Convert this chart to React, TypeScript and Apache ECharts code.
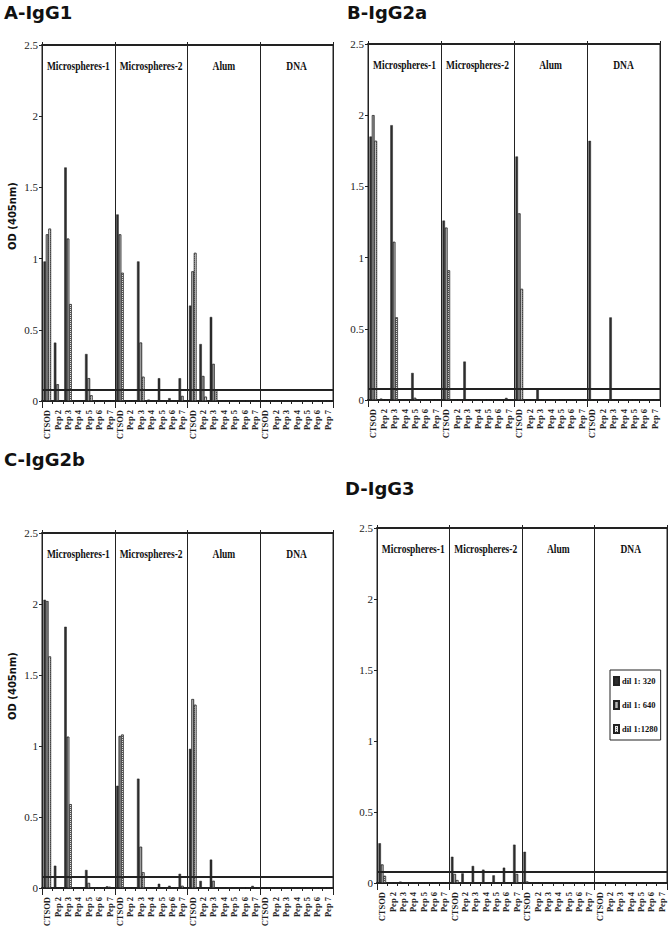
import React, { useEffect, useRef } from 'react';
import * as echarts from 'echarts';

// ---------- data ----------
const categories = ['CTSOD', 'Pep 2', 'Pep 3', 'Pep 4', 'Pep 5', 'Pep 6', 'Pep 7'];
const groups = ['Microspheres-1', 'Microspheres-2', 'Alum', 'DNA'];
const seriesNames = ['dil 1: 320', 'dil 1: 640', 'dil 1:1280'];
const panelTitles = ['A-IgG1', 'B-IgG2a', 'C-IgG2b', 'D-IgG3'];
const yAxisName = 'OD (405nm)';
const cutoff = 0.08;
const yMin = 0;
const yMax = 2.5;
const yStep = 0.5;

// Panel A - IgG1 (Microspheres-1 | Microspheres-2 | Alum | DNA)
const a320 = [0.98, 0.41, 1.64, 0, 0.33, 0.005, 0, 1.31, 0, 0.98, 0.01, 0.16, 0.02, 0.16, 0.67, 0.40, 0.59, 0, 0, 0, 0, 0, 0, 0, 0, 0, 0, 0];
const a640 = [1.17, 0.117, 1.14, 0, 0.16, 0, 0, 1.17, 0, 0.41, 0, 0, 0, 0.035, 0.91, 0.175, 0.26, 0, 0, 0, 0, 0, 0, 0, 0, 0, 0, 0];
const a1280 = [1.21, 0, 0.68, 0, 0.04, 0, 0, 0.90, 0, 0.17, 0, 0, 0, 0, 1.04, 0.03, 0.08, 0, 0, 0, 0, 0, 0, 0, 0, 0, 0, 0];

// Panel B - IgG2a
const b320 = [1.85, 0.01, 1.93, 0, 0.19, 0, 0, 1.26, 0, 0.27, 0, 0, 0, 0.015, 1.71, 0, 0.075, 0, 0, 0, 0, 1.82, 0, 0.58, 0, 0, 0, 0];
const b640 = [2.0, 0, 1.11, 0, 0.015, 0, 0, 1.21, 0, 0, 0, 0, 0, 0, 1.31, 0, 0, 0, 0, 0, 0, 0, 0, 0, 0, 0, 0, 0];
const b1280 = [1.82, 0, 0.58, 0, 0, 0, 0, 0.91, 0, 0, 0, 0, 0, 0, 0.78, 0, 0, 0, 0, 0, 0, 0, 0, 0, 0, 0, 0, 0];

// Panel C - IgG2b
const c320 = [2.03, 0.157, 1.84, 0, 0.127, 0, 0.012, 0.72, 0, 0.77, 0, 0.03, 0.016, 0.10, 0.98, 0.05, 0.20, 0, 0, 0, 0.015, 0, 0, 0, 0, 0, 0, 0];
const c640 = [2.02, 0, 1.065, 0, 0.035, 0, 0.008, 1.07, 0, 0.29, 0, 0, 0, 0.015, 1.33, 0, 0.05, 0, 0, 0, 0, 0, 0, 0, 0, 0, 0, 0];
const c1280 = [1.63, 0, 0.59, 0, 0, 0, 0, 1.08, 0, 0.11, 0, 0, 0, 0, 1.29, 0, 0, 0, 0, 0, 0, 0, 0, 0, 0, 0, 0, 0];

// Panel D - IgG3
const d320 = [0.28, 0, 0.01, 0, 0, 0, 0, 0.185, 0.068, 0.12, 0.094, 0.054, 0.108, 0.27, 0.22, 0, 0, 0, 0, 0, 0, 0, 0, 0, 0, 0, 0, 0];
const d640 = [0.13, 0, 0, 0, 0, 0, 0, 0.063, 0, 0, 0, 0, 0, 0.063, 0.01, 0, 0, 0, 0, 0, 0, 0, 0, 0, 0, 0, 0, 0];
const d1280 = [0.05, 0, 0, 0, 0, 0, 0, 0.02, 0, 0, 0, 0, 0, 0, 0, 0, 0, 0, 0, 0, 0, 0, 0, 0, 0, 0, 0, 0];

const panelData = [
  [a320, a640, a1280],
  [b320, b640, b1280],
  [c320, c640, c1280],
  [d320, d640, d1280],
];

// ---------- layout ----------
const W = 669;
const H = 935;
const grids = [
  { left: 42, top: 45, width: 291, height: 356 },
  { left: 368, top: 44, width: 292, height: 356 },
  { left: 42, top: 533, width: 291, height: 355 },
  { left: 377, top: 528, width: 290, height: 355 },
];
const titlePos = [
  { left: 4, top: 3 },
  { left: 347, top: 3 },
  { left: 4, top: 450 },
  { left: 345, top: 479 },
];
// y-axis name positions (only the left panels carry one)
const yNamePos = [
  { x: 12, y: 216 },
  null,
  { x: 12, y: 686 },
  null,
];
const groupLabelOffset = 20; // px below plot top
const groupLabelScaleX = 0.76;

const INK = '#222';
const SERIF = 'Liberation Serif, DejaVu Serif, serif';
const SANS = 'DejaVu Sans, sans-serif';

const seriesStyles: any[] = [
  { color: '#2e2e2e', borderColor: INK, borderWidth: 0.5 },
  {
    color: '#8f8f8f',
    borderColor: INK,
    borderWidth: 0.5,
    decal: { symbol: 'rect', symbolSize: 1, color: 'rgba(255,255,255,0.35)', dashArrayX: [1, 1], dashArrayY: [10, 0], rotation: 0 },
  },
  {
    color: '#e6e6e6',
    borderColor: INK,
    borderWidth: 0.5,
    decal: { symbol: 'rect', symbolSize: 1, color: 'rgba(40,40,40,0.75)', dashArrayX: [1, 1], dashArrayY: [1, 1], rotation: 0 },
  },
];

function buildOption() {
  const allCats: string[] = [];
  groups.forEach(() => categories.forEach((c) => allCats.push(c)));

  const xAxis: any[] = [];
  const yAxis: any[] = [];
  const series: any[] = [];

  grids.forEach((_, i) => {
    // index 3i: categories (bottom)
    xAxis.push({
      type: 'category',
      gridIndex: i,
      data: allCats,
      position: 'bottom',
      boundaryGap: true,
      axisLine: { show: true, lineStyle: { color: INK, width: 2 } },
      axisTick: { show: true, interval: 0, length: 3, lineStyle: { color: INK } },
      axisLabel: {
        interval: 0,
        rotate: 90,
        margin: 9,
        fontSize: 8.5,
        fontFamily: SERIF,
        fontWeight: 'bold',
        color: INK,
      },
      splitLine: { show: false },
    });
    // index 3i+1: groups (top) - separators + top border
    xAxis.push({
      type: 'category',
      gridIndex: i,
      data: groups,
      position: 'top',
      boundaryGap: true,
      axisLine: { show: true, lineStyle: { color: INK, width: 2 } },
      axisTick: { show: true, interval: 0, length: 3, lineStyle: { color: INK } },
      axisLabel: { show: false },
      splitLine: { show: true, interval: 0, lineStyle: { color: INK, width: 1 } },
    });
    // index 3i+2: groups (bottom) - separators extending below the axis
    xAxis.push({
      type: 'category',
      gridIndex: i,
      data: groups,
      position: 'bottom',
      boundaryGap: true,
      axisLine: { show: false },
      axisTick: { show: true, interval: 0, length: 7, lineStyle: { color: INK } },
      axisLabel: { show: false },
      splitLine: { show: false },
    });
    yAxis.push({
      type: 'value',
      gridIndex: i,
      min: yMin,
      max: yMax,
      interval: yStep,
      axisLine: { show: true, lineStyle: { color: INK, width: 1 } },
      axisTick: { show: true, length: 3, lineStyle: { color: INK } },
      axisLabel: { margin: 4, fontSize: 11, fontFamily: SERIF, color: INK },
      splitLine: { show: false },
    });

    panelData[i].forEach((vals, s) => {
      const ser: any = {
        type: 'bar',
        name: seriesNames[s],
        xAxisIndex: i * 3,
        yAxisIndex: i,
        data: vals,
        barGap: '0%',
        barCategoryGap: '28%',
        itemStyle: seriesStyles[s],
        emphasis: { disabled: true },
      };
      if (s === 0) {
        ser.markLine = {
          silent: true,
          symbol: 'none',
          label: { show: false },
          lineStyle: { color: INK, width: 2, type: 'solid' },
          data: [{ yAxis: cutoff }],
        };
      }
      series.push(ser);
    });
  });

  const yNames: any[] = [];
  yNamePos.forEach((p) => {
    if (!p) return;
    yNames.push({
      type: 'text',
      x: p.x,
      y: p.y,
      rotation: Math.PI / 2,
      silent: true,
      style: {
        text: yAxisName,
        fontFamily: SANS,
        fontWeight: 'bold',
        fontSize: 10,
        fill: '#111',
        align: 'center',
        verticalAlign: 'middle',
      },
    });
  });

  return {
    animation: false,
    backgroundColor: '#ffffff',
    title: panelTitles.map((t, i) => ({
      text: t,
      left: titlePos[i].left,
      top: titlePos[i].top,
      padding: 0,
      textStyle: { fontFamily: SANS, fontWeight: 'bold', fontSize: 18, color: '#111' },
    })),
    legend: {
      show: true,
      data: seriesNames,
      orient: 'vertical',
      left: 610,
      top: 670,
      icon: 'rect',
      itemWidth: 5,
      itemHeight: 8,
      itemGap: 14,
      padding: [6, 3, 6, 3],
      borderColor: INK,
      borderWidth: 1,
      selectedMode: false,
      textStyle: { fontFamily: SERIF, fontWeight: 'bold', fontSize: 8.5, color: '#111', padding: [0, 0, 0, -2] },
    },
    grid: grids.map((g) => ({ ...g, show: true, borderColor: INK, borderWidth: 1, containLabel: false })),
    xAxis,
    yAxis,
    series,
    graphic: yNames,
  };
}

export default function App() {
  const ref = useRef<HTMLDivElement>(null);
  useEffect(() => {
    if (!ref.current) return;
    const chart = echarts.init(ref.current, undefined, { renderer: 'svg', width: W, height: H });
    const option: any = buildOption();
    chart.setOption(option);
    // group captions placed at the centre of each group band of the top axis
    const graphic: any[] = [...option.graphic];
    grids.forEach((g, i) => {
      groups.forEach((name, gi) => {
        const cx = chart.convertToPixel({ xAxisIndex: i * 3 + 1 } as any, gi as any) as any as number;
        graphic.push({
          type: 'text',
          x: cx,
          y: g.top + groupLabelOffset,
          scaleX: groupLabelScaleX,
          silent: true,
          style: {
            text: name,
            fontFamily: SERIF,
            fontWeight: 'bold',
            fontSize: 12.5,
            fill: '#111',
            align: 'center',
            verticalAlign: 'middle',
          },
        });
      });
    });
    chart.setOption({ graphic }, { replaceMerge: ['graphic'] } as any);
    return () => chart.dispose();
  }, []);
  return (
    <div
      ref={ref}
      style={{ position: 'absolute', left: 0, top: 0, width: W, height: H, background: '#fff' }}
    />
  );
}
